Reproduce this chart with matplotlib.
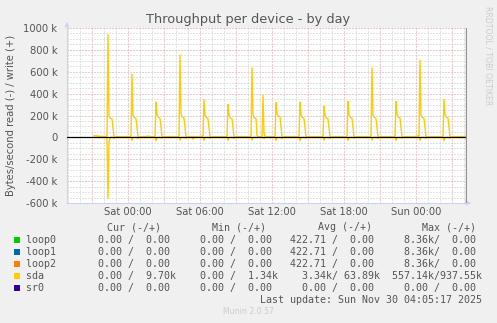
import numpy as np
import matplotlib
matplotlib.use('Agg')
import matplotlib.pyplot as plt

plt.rc('font', family='DejaVu Sans')

# sda, 5 minute samples (kB/s), first sample Fri 21:10, last Sun 04:05
sda_write = [
    14, 16, 15, 14, 12, 10, 9, 8, 9, 8, 7, 8, 9, 8,
    937.55, 195, 180, 172, 165, 85, 8, 7, 6, 7, 8, 7, 6, 7, 8, 7, 6, 7, 7, 8, 6, 7, 8, 7,
    578, 200, 185, 178, 170, 90, 8, 7, 6, 7, 6, 7, 8, 7, 6, 10, 12, 11, 8, 7, 6, 7, 8, 7,
    322, 210, 188, 180, 172, 95, 8, 7, 6, 8, 7, 6, 7, 8, 7, 6, 7, 8, 7, 6, 7, 8, 7, 6,
    752, 215, 190, 182, 175, 92, 8, 7, 6, 7, 8, 7, 6, 7, 8, 7, 6, 7, 8, 7, 10, 11, 8, 7,
    345, 205, 186, 178, 168, 88, 8, 7, 6, 7, 8, 7, 6, 7, 8, 7, 6, 7, 8, 7, 6, 7, 8, 7,
    303, 200, 182, 175, 170, 90, 7, 6, 7, 8, 7, 6, 7, 8, 7, 6, 7, 8, 7, 6, 7, 8, 7, 6,
    636, 210, 180, 176, 172, 15, 7, 6, 7, 8, 7, 385, 40, 8, 7, 6, 7, 8, 7, 6, 7, 8, 7, 6,
    318, 218, 195, 192, 188, 95, 8, 7, 6, 7, 8, 7, 6, 7, 8, 7, 6, 7, 8, 7, 6, 7, 8, 7,
    321, 205, 185, 180, 172, 90, 8, 7, 6, 7, 8, 7, 6, 7, 8, 7, 6, 7, 8, 7, 6, 7, 8, 7,
    287, 200, 182, 176, 168, 88, 8, 7, 6, 7, 8, 7, 6, 7, 8, 7, 6, 1.34, 7, 8, 7, 6, 7, 8,
    330, 210, 188, 180, 172, 92, 8, 7, 6, 7, 8, 7, 6, 7, 8, 7, 6, 7, 8, 7, 6, 7, 8, 7,
    636, 205, 186, 180, 170, 90, 8, 7, 6, 7, 8, 7, 6, 7, 8, 7, 6, 7, 8, 7, 6, 7, 8, 7,
    330, 212, 190, 182, 175, 94, 8, 7, 6, 7, 8, 7, 6, 7, 8, 7, 6, 7, 8, 7, 10, 14, 12, 8,
    706, 205, 186, 180, 172, 90, 8, 7, 6, 7, 8, 7, 6, 7, 8, 7, 6, 7, 8, 7, 6, 7, 8, 7,
    349, 210, 188, 182, 175, 92, 8, 7, 6, 7, 8, 7, 6, 7, 8, 7, 6, 7, 8, 9, 9, 9.70,
]
sda_read = [
    0, 0, 0, 0, 0, 0, 0, 0, 0, 0, 0, 0, 0, 15,
    557.14, 40, 10, 0, 0, 0, 12, 0, 0, 0, 0, 0, 0, 0, 0, 0, 0, 0, 0, 0, 0, 0, 0, 0,
    28, 0, 0, 0, 0, 0, 10, 0, 0, 0, 0, 0, 0, 0, 0, 0, 0, 0, 0, 0, 0, 0, 0, 0,
    30, 0, 0, 0, 0, 0, 8, 0, 0, 0, 0, 0, 0, 0, 0, 0, 0, 0, 0, 0, 0, 0, 0, 0,
    25, 0, 0, 0, 0, 0, 10, 0, 0, 0, 0, 0, 0, 15, 0, 0, 0, 0, 0, 0, 0, 0, 0, 0,
    28, 0, 0, 0, 0, 0, 8, 0, 0, 0, 0, 0, 0, 0, 0, 0, 0, 0, 0, 0, 0, 0, 0, 0,
    26, 0, 0, 0, 0, 0, 10, 0, 0, 0, 0, 0, 0, 0, 0, 0, 0, 0, 0, 0, 0, 0, 0, 0,
    25, 0, 0, 0, 0, 0, 0, 0, 0, 0, 0, 0, 10, 0, 0, 0, 0, 0, 0, 0, 0, 0, 0, 0,
    28, 0, 0, 0, 0, 0, 12, 0, 0, 0, 0, 0, 0, 0, 0, 0, 0, 0, 0, 0, 0, 0, 0, 0,
    30, 0, 0, 0, 0, 0, 8, 0, 0, 0, 0, 0, 0, 0, 0, 0, 0, 0, 0, 0, 0, 0, 0, 0,
    26, 0, 0, 0, 0, 0, 10, 0, 0, 0, 0, 0, 0, 0, 0, 0, 0, 0, 0, 0, 0, 0, 0, 0,
    28, 0, 0, 0, 0, 0, 8, 0, 0, 0, 0, 0, 0, 0, 0, 0, 0, 0, 0, 0, 0, 0, 0, 0,
    25, 0, 0, 0, 0, 0, 10, 0, 0, 0, 0, 0, 0, 0, 0, 0, 0, 0, 0, 0, 0, 0, 0, 0,
    28, 0, 0, 0, 0, 0, 8, 0, 0, 0, 0, 0, 0, 0, 0, 0, 0, 0, 0, 0, 0, 0, 0, 0,
    27, 0, 0, 0, 0, 0, 10, 0, 0, 0, 0, 0, 0, 0, 0, 0, 0, 0, 0, 0, 0, 0, 0, 0,
    30, 0, 0, 0, 0, 0, 8, 0, 0, 0, 0, 0, 0, 0, 0, 0, 0, 0, 0, 0, 0, 0,
]
start_hour = -2 - 50 / 60.0   # Fri 21:10, hours relative to Sat 00:00
step_hours = 5 / 60.0

xticks = [0, 6, 12, 18, 24]
xlabels = ['Sat 00:00', 'Sat 06:00', 'Sat 12:00', 'Sat 18:00', 'Sun 00:00']
yticks = [-600, -400, -200, 0, 200, 400, 600, 800, 1000]

names = ['loop0', 'loop1', 'loop2', 'sda', 'sr0']
colors = ['#00cc00', '#0066b3', '#ff8000', '#ffcc00', '#330099']
cur = [(0, 0), (0, 0), (0, 0), (0, 9.70e3), (0, 0)]
mins = [(0, 0), (0, 0), (0, 0), (0, 1.34e3), (0, 0)]
avgs = [(422.71, 0), (422.71, 0), (422.71, 0), (3.34e3, 63.89e3), (0, 0)]
maxs = [(8.36e3, 0), (8.36e3, 0), (8.36e3, 0), (557.14e3, 937.55e3), (0, 0)]
last_update = 'Last update: Sun Nov 30 04:05:17 2025'

W, H = 497, 323
fig = plt.figure(figsize=(W / 100, H / 100), dpi=100, facecolor='#f0f0f0')
L, R, T, B = 67, 467, 28, 203
ax = fig.add_axes([L / W, 1 - B / H, (R - L) / W, (B - T) / H])
ax.set_facecolor('white')

x0 = -5 - 5 / 60.0
x1 = x0 + 400 * step_hours
ax.set_xlim(x0, x1)
ax.set_ylim(-600, 1000)

# grid: minor gray dots every hour / 50k, major red dots every 3 h / 200k
dots = (0, (1, 2))
for h in np.arange(-5, 29, 1):
    if h % 3 == 0:
        continue
    ax.axvline(h, color='#c8c8c8', lw=0.72, ls=dots, zorder=1)
for v in np.arange(-550, 1000, 50):
    if v % 200 == 0:
        continue
    ax.axhline(v, color='#c8c8c8', lw=0.72, ls=dots, zorder=1)
for h in np.arange(-3, 29, 3):
    ax.axvline(h, color='#e09a9a', lw=0.72, ls=dots, zorder=2)
for v in yticks:
    ax.axhline(v, color='#e09a9a', lw=0.72, ls=dots, zorder=2)

t = start_hour + step_hours * np.arange(len(sda_write))
tr = start_hour + step_hours * np.arange(len(sda_read))
ax.plot(tr, -np.array(sda_read), color='#ffcc00', lw=1.0, zorder=3)
ax.plot(t, sda_write, color='#ffcc00', lw=1.0, zorder=4)
ax.axhline(0, color='black', lw=0.9, zorder=5)

for s in ['top', 'right']:
    ax.spines[s].set_visible(False)
ax.spines['left'].set_color('#ccd4f4')
ax.spines['bottom'].set_color('#ccd4f4')
ax.axvline(x1 - step_hours, color='#909090', lw=1.0, zorder=5)
ax.annotate('', xy=(x0, 1000 + 9 * 1600 / 175), xytext=(x0, 990),
            arrowprops=dict(arrowstyle='-|>', color='#ccd4f4', lw=0.8, mutation_scale=7),
            annotation_clip=False)
ax.annotate('', xy=(x1 + 7 * step_hours, -600), xytext=(x1 - 1 * step_hours, -600),
            arrowprops=dict(arrowstyle='-|>', color='#ccd4f4', lw=0.8, mutation_scale=7),
            annotation_clip=False)

ax.set_yticks(yticks)
ax.set_yticklabels(['%d k' % v if v != 0 else '0' for v in yticks])
ax.set_xticks(xticks)
ax.set_xticklabels(xlabels)
ax.tick_params(axis='both', length=0, labelsize=7.2, colors='#555555')
ax.tick_params(axis='y', pad=7)
ax.tick_params(axis='x', pad=3)

ax.set_ylabel('Bytes/second read (-) / write (+)', fontsize=7.2, color='#555555', labelpad=5)
fig.text(248 / W, 1 - 19 / H, 'Throughput per device - by day', ha='center', va='center',
         fontsize=9.3, color='#555555')
fig.text(488 / W, 1 - 6 / H, 'RRDTOOL / TOBI OETIKER', rotation=270, ha='center', va='top',
         fontsize=5.6, color='#cccccc')


def fmt(v):
    if abs(v) >= 1000:
        return '%6.2fk' % (v / 1000.0)
    return '%6.2f ' % v


mono = 'DejaVu Sans Mono'
fs = 7.2
heads = [('Cur (-/+)', 107), ('Min (-/+)', 212.5), ('Avg (-/+)', 318), ('Max (-/+)', 422.5)]
for txt, px in heads:
    fig.text(px / W, 1 - 227 / H, txt, family=mono, fontsize=fs, color='#555555', va='center')

for i, n in enumerate(names):
    y = 240 + 12 * i
    cells = [fmt(a) + '/' + fmt(b) for a, b in (cur[i], mins[i], avgs[i], maxs[i])]
    row = n.ljust(10) + '  '.join(cells)
    fig.text(26 / W, 1 - y / H, row, family=mono, fontsize=fs, color='#555555', va='center')
    fig.patches.append(plt.Rectangle((14 / W, 1 - (y + 3) / H), 6 / W, 6 / H,
                                     transform=fig.transFigure, facecolor=colors[i],
                                     edgecolor='none'))

fig.text(482.5 / W, 1 - 300 / H, last_update, family=mono, fontsize=fs, color='#555555',
         va='center', ha='right')
fig.text(248 / W, 1 - 312 / H, 'Munin 2.0.57', ha='center', va='center', fontsize=5.6,
         color='#cccccc')

plt.savefig('out.png', dpi=100, facecolor=fig.get_facecolor())
